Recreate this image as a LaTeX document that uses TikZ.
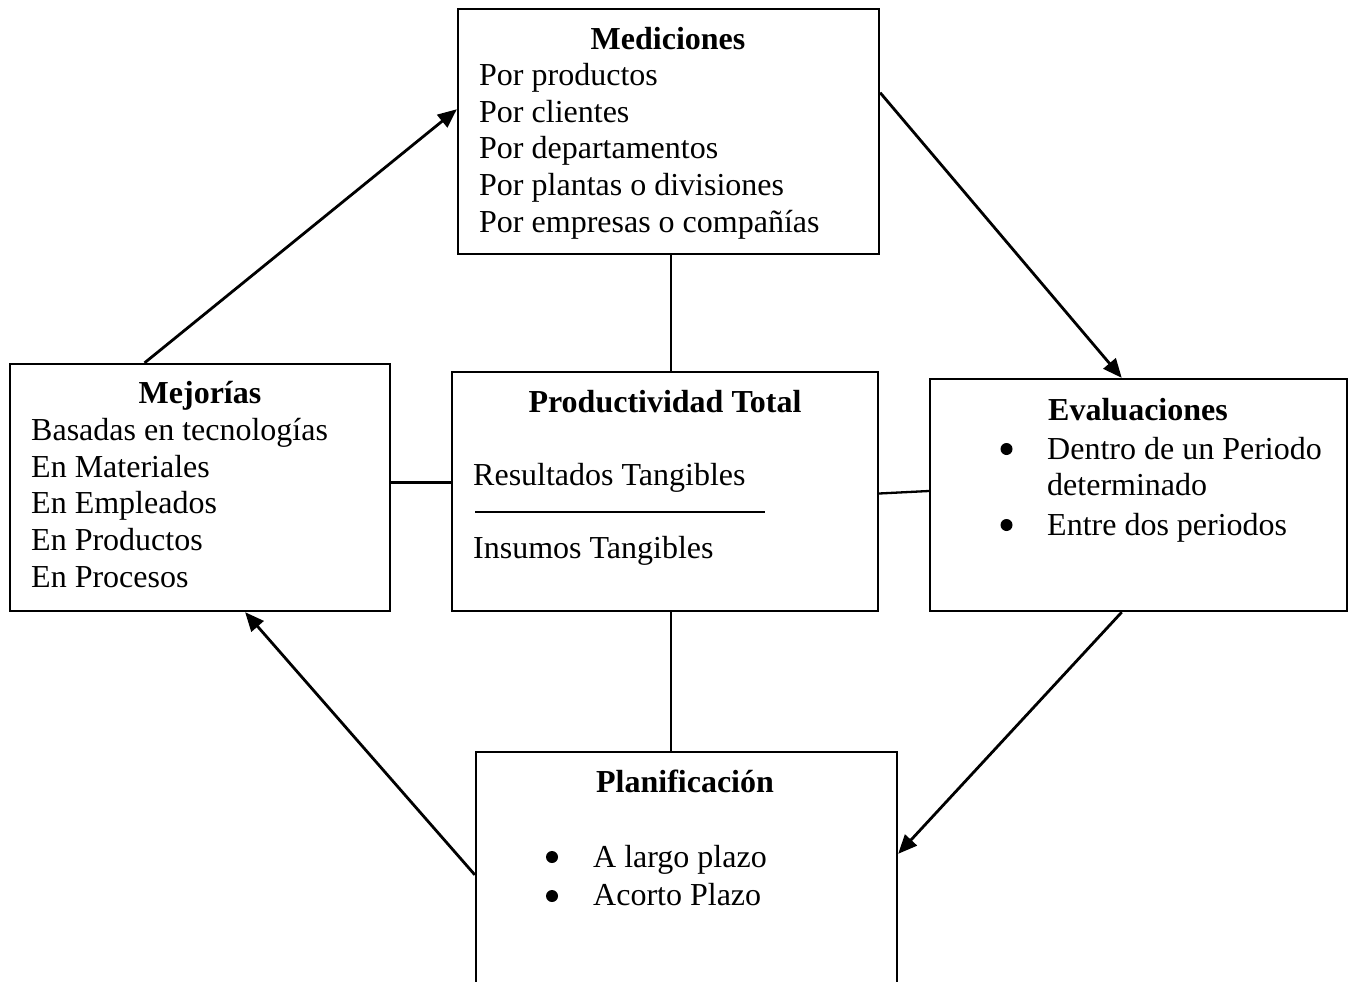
\documentclass[tikz,border=0pt]{standalone}
\usepackage{fontspec}
\setmainfont{Liberation Serif}
\usetikzlibrary{calc,arrows.meta}
\begin{document}
\begin{tikzpicture}[x=1pt,y=-1pt,
  box/.style={draw,line width=2.3pt,inner sep=0pt},
  txt/.style={anchor=base west,inner sep=0pt,font=\fontsize{32}{37}\selectfont},
  ttl/.style={anchor=base,inner sep=0pt,font=\fontsize{32}{37}\selectfont\bfseries},
  dot/.style={circle,fill,inner sep=0pt,minimum size=12pt},
  link/.style={line width=2.3pt},
  arr/.style={line width=2.8pt,-{Triangle[length=19pt,width=16pt]}}]
\useasboundingbox (0,0) rectangle (1354,982);
\clip (0,0) rectangle (1354,982);

% boxes
\node[box,minimum width=421pt,minimum height=245pt] (med) at (668.5,131.5) {};
\node[box,minimum width=380pt,minimum height=247pt] (mej) at (200,487.5) {};
\node[box,minimum width=426pt,minimum height=239pt] (pro) at (665,491.5) {};
\node[box,minimum width=417pt,minimum height=232pt] (eva) at (1138.5,495) {};
\node[box,minimum width=421pt,minimum height=258pt] (pla) at (686.5,881) {};

% Mediciones
\node[ttl] (medT) at (668,50) {Mediciones};
\node[txt] (med1) at (479,85) {Por productos};
\node[txt] (med2) at (479,122) {Por clientes};
\node[txt] (med3) at (479,158) {Por departamentos};
\node[txt] (med4) at (479,195) {Por plantas o divisiones};
\node[txt] (med5) at (479,232) {Por empresas o compañías};

% Mejorías
\node[ttl] (mejT) at (200,403) {Mejorías};
\node[txt] (mej1) at (31,440) {Basadas en tecnologías};
\node[txt] (mej2) at (31,477) {En Materiales};
\node[txt] (mej3) at (31,513) {En Empleados};
\node[txt] (mej4) at (31,550) {En Productos};
\node[txt] (mej5) at (31,587) {En Procesos};

% Productividad Total
\node[ttl] (proT) at (665,412) {Productividad Total};
\node[txt] (pro1) at (473,485) {Resultados Tangibles};
\node[txt] (pro2) at (473,558) {Insumos Tangibles};
\draw[line width=2.3pt] (475,512) -- (765,512);

% Evaluaciones
\node[ttl] (evaT) at (1138,420) {Evaluaciones};
\node[dot] (evaB1) at (1006.5,449) {};
\node[txt] (eva1) at (1047,459) {Dentro de un Periodo};
\node[txt] (eva2) at (1047,495) {determinado};
\node[dot] (evaB2) at (1006.5,525) {};
\node[txt] (eva3) at (1047,535) {Entre dos periodos};

% Planificación
\node[ttl] (plaT) at (685,792) {Planificación};
\node[dot] (plaB1) at (552,857) {};
\node[txt] (pla1) at (593,867) {A largo plazo};
\node[dot] (plaB2) at (552,896) {};
\node[txt] (pla2) at (593,905) {Acorto Plazo};

% plain links around the centre box
\coordinate (pt) at ($(pro.north west)+(220,0)$);
\draw[link] (pt) -- (pt |- med.south);
\coordinate (pb) at ($(pro.south west)+(220,0)$);
\draw[link] (pb) -- (pb |- pla.north);
\coordinate (ml) at ($(mej.east)+(0,-5)$);
\draw[link] (ml) -- (ml -| pro.west);
\draw[link] ($(pro.east)+(0,2)$) -- ($(eva.west)+(0,-4)$);

% cycle arrows
\draw[arr] ($(mej.north west)!0.355!(mej.north east)$) -- ($(med.north west)!0.41!(med.south west)$);
\draw[arr] ($(med.north east)!0.343!(med.south east)$) -- ($(eva.north west)!0.46!(eva.north east)$);
\draw[arr] ($(eva.south west)!0.46!(eva.south east)$) -- ($(pla.north east)+(0,103)$);
\draw[arr] ($(pla.north west)+(0,124)$) -- ($(mej.south west)!0.618!(mej.south east)$);
\end{tikzpicture}
\end{document}
